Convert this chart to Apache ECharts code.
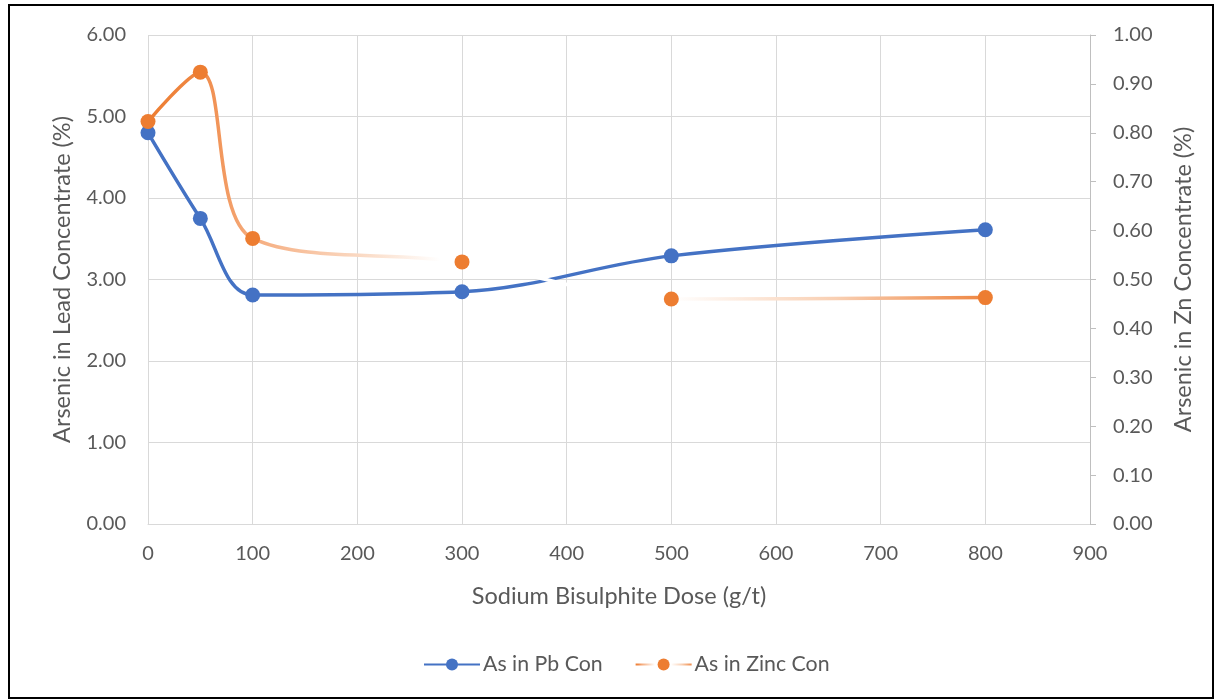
<!DOCTYPE html>
<html>
<head>
<meta charset="utf-8">
<title>Arsenic vs Sodium Bisulphite Dose</title>
<script src="https://cdn.jsdelivr.net/npm/echarts@6/dist/echarts.min.js"></script>
<style>
  html, body { margin: 0; padding: 0; background: #ffffff; }
  #chart { width: 1215px; height: 700px; }
</style>
</head>
<body>
<div id="chart"></div>
<script>
// Sodium bisulphite dose (g/t)
const doses = [0, 50, 100, 300, 500, 800];
// Arsenic in lead concentrate (%), left axis
const asInPbCon = [4.80, 3.75, 2.81, 2.85, 3.29, 3.61];
// Arsenic in zinc concentrate (%), right axis
const asInZincCon = [0.823, 0.924, 0.584, 0.536, 0.460, 0.463];

const seriesNames = ['As in Pb Con', 'As in Zinc Con'];
const xTicks = [0, 100, 200, 300, 400, 500, 600, 700, 800, 900];
const leftTicks = [0, 1, 2, 3, 4, 5, 6];
const rightTicks = [0, 0.1, 0.2, 0.3, 0.4, 0.5, 0.6, 0.7, 0.8, 0.9, 1.0];

const FONT = 'Lato';
const TEXT = '#595959';
const GRID = '#d9d9d9';
const BLUE = '#4472C4';
const ORANGE = '#ED7D31';
const TITLE_SIZE = 23.5;
const TICK_SIZE = 20;

const pbPoints = doses.map((d, i) => [d, asInPbCon[i]]);
const znPoints = doses.map((d, i) => [d, asInZincCon[i]]);

// orange line fades out to white past 100 g/t and back in toward 800 g/t
const zincGradient = new echarts.graphic.LinearGradient(0, 0, 1, 0, [
  { offset: 0.0, color: '#ED7D31' },
  { offset: 0.06, color: '#EF8743' },
  { offset: 0.125, color: '#F5AB7C' },
  { offset: 0.27, color: '#FBDFCC' },
  { offset: 0.35, color: '#FFFFFF' },
  { offset: 0.625, color: '#FFFFFF' },
  { offset: 0.82, color: '#F9CFB2' },
  { offset: 1.0, color: '#EE8540' }
]);

const chart = echarts.init(document.getElementById('chart'), null, { renderer: 'canvas' });

chart.setOption({
  backgroundColor: '#ffffff',
  animation: false,
  textStyle: { fontFamily: FONT },
  graphic: [{
    type: 'rect',
    shape: { x: 9, y: 5, width: 1204, height: 693 },
    style: { fill: 'none', stroke: '#000000', lineWidth: 2 },
    silent: true,
    z: 100
  }],
  grid: { left: 148, top: 35, right: 125, bottom: 176, containLabel: false },
  legend: {
    bottom: 20,
    left: 418,
    itemWidth: 56,
    itemHeight: 15,
    itemGap: 32,
    textStyle: { color: TEXT, fontSize: 21.3, fontFamily: FONT, padding: [0, 0, 0, -2] },
    data: seriesNames
  },
  xAxis: {
    type: 'value',
    min: xTicks[0],
    max: xTicks[xTicks.length - 1],
    interval: 100,
    name: 'Sodium Bisulphite Dose (g/t)',
    nameLocation: 'middle',
    nameGap: 60,
    nameTextStyle: { color: TEXT, fontSize: TITLE_SIZE, fontFamily: FONT },
    axisLine: { show: true, lineStyle: { color: GRID, width: 1 } },
    axisTick: { show: false },
    axisLabel: { color: TEXT, fontSize: TICK_SIZE, margin: 20, fontFamily: FONT },
    splitLine: { show: true, lineStyle: { color: GRID, width: 1 } }
  },
  yAxis: [{
    type: 'value',
    position: 'left',
    min: leftTicks[0],
    max: leftTicks[leftTicks.length - 1],
    interval: 1,
    name: 'Arsenic in Lead Concentrate (%)',
    nameLocation: 'middle',
    nameGap: 74,
    nameTextStyle: { color: TEXT, fontSize: TITLE_SIZE, fontFamily: FONT },
    axisLine: { show: false },
    axisTick: { show: false },
    axisLabel: { color: TEXT, fontSize: TICK_SIZE, margin: 22, fontFamily: FONT, formatter: v => v.toFixed(2) },
    splitLine: { show: true, lineStyle: { color: GRID, width: 1 } }
  }, {
    type: 'value',
    position: 'right',
    min: rightTicks[0],
    max: rightTicks[rightTicks.length - 1],
    interval: 0.1,
    name: 'Arsenic in Zn Concentrate (%)',
    nameLocation: 'middle',
    nameGap: 81,
    nameRotate: 90,
    nameTextStyle: { color: TEXT, fontSize: TITLE_SIZE, fontFamily: FONT },
    axisLine: { show: true, lineStyle: { color: '#bfbfbf', width: 1 } },
    axisTick: { show: true, length: 6, lineStyle: { color: '#bfbfbf' } },
    axisLabel: { color: TEXT, fontSize: TICK_SIZE, margin: 23, fontFamily: FONT, formatter: v => v.toFixed(2) },
    splitLine: { show: false }
  }],
  series: [{
    name: seriesNames[0],
    type: 'line',
    yAxisIndex: 0,
    data: pbPoints,
    smooth: 0.35,
    symbol: 'circle',
    symbolSize: 15,
    lineStyle: { color: BLUE, width: 3.5 },
    itemStyle: { color: BLUE },
    z: 2
  }, {
    name: seriesNames[1],
    type: 'line',
    yAxisIndex: 1,
    data: znPoints,
    smooth: 0.35,
    symbol: 'circle',
    symbolSize: 15,
    lineStyle: { color: zincGradient, width: 3.5 },
    itemStyle: { color: ORANGE },
    z: 3
  }]
});
</script>
</body>
</html>
